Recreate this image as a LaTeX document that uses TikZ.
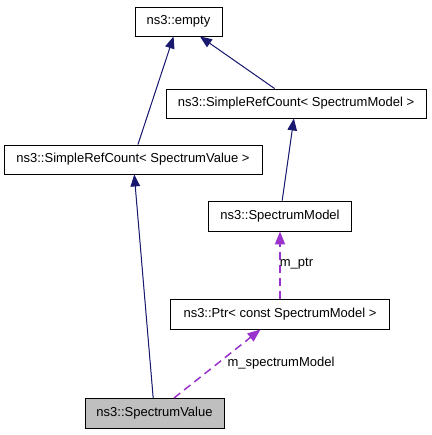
\documentclass[tikz,border=0pt]{standalone}
\usepackage{fontspec}
\setmainfont{Liberation Sans}
\usetikzlibrary{arrows.meta}
\definecolor{navyedge}{HTML}{191970}
\definecolor{purpleedge}{HTML}{9A32CD}
\definecolor{graybox}{HTML}{BFBFBF}
\begin{document}
\begin{tikzpicture}[x=1bp,y=-1bp,
  box/.style={draw=black, line width=0.9bp, fill=white, inner sep=0pt, anchor=center,
    font=\fontsize{13bp}{15bp}\selectfont},
  inherit/.style={draw=navyedge, line width=1bp,
    -{Triangle[length=12bp,width=9.5bp]}, fill=navyedge},
  usage/.style={draw=purpleedge, line width=1.5bp, dash pattern=on 8bp off 5bp,
    -{Triangle[length=13bp,width=10bp]}},
  lbl/.style={inner sep=0pt, font=\fontsize{13bp}{15bp}\selectfont, anchor=center}]
\useasboundingbox (0,0) rectangle (431,435);
\node[box, minimum width=87bp, minimum height=29bp] (empty) at (178.5,21.5) {ns3::empty};
\node[box, minimum width=260bp, minimum height=29bp] (srcsm) at (296,103.5) {ns3::SimpleRefCount< SpectrumModel >};
\node[box, minimum width=258bp, minimum height=29bp] (srcsv) at (133,159.5) {ns3::SimpleRefCount< SpectrumValue >};
\node[box, minimum width=143bp, minimum height=30bp] (sm) at (280,216) {ns3::SpectrumModel};
\node[box, minimum width=219bp, minimum height=30bp] (ptr) at (280,314) {ns3::Ptr< const SpectrumModel >};
\node[box, fill=graybox, minimum width=139bp, minimum height=30bp] (sv) at (154.5,413.5) {ns3::SpectrumValue};
\draw[inherit] (srcsv) -- (empty);
\draw[inherit] (srcsm) -- (empty);
\draw[inherit] (sm) -- (srcsm);
\draw[inherit] (sv) -- (srcsv);
\draw[usage] (ptr) -- (sm);
\draw[usage] (sv) -- (ptr);
\node[lbl] (lptr) at (296.5,264) {m\_ptr};
\node[lbl] (lsm) at (281,363) {m\_spectrumModel};
\end{tikzpicture}
\end{document}
